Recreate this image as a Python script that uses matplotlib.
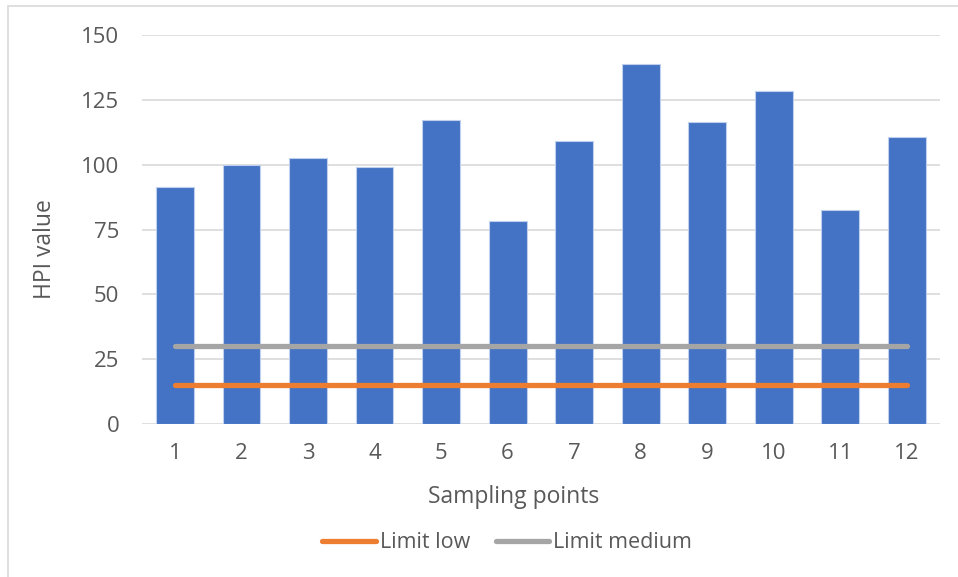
import matplotlib
matplotlib.use("Agg")
import matplotlib.pyplot as plt
from matplotlib.lines import Line2D
from matplotlib.patches import Rectangle

plt.rcParams['font.family'] = ['Open Sans', 'DejaVu Sans']

# Data
sampling_points = ["1", "2", "3", "4", "5", "6", "7", "8", "9", "10", "11", "12"]
hpi_values = [91.3, 100.0, 102.6, 99.1, 117.2, 78.4, 109.4, 139.1, 116.5, 128.6, 82.4, 110.6]
limit_low = [15] * 12
limit_medium = [30] * 12
y_ticks = [0, 25, 50, 75, 100, 125, 150]

BAR_COLOR = "#4472C4"
LOW_COLOR = "#ED7D31"
MED_COLOR = "#A5A5A5"
TEXT_COLOR = "#595959"
GRID_COLOR = "#D9D9D9"

W, H = 958, 577
fig = plt.figure(figsize=(W / 100, H / 100), dpi=100)
fig.patch.set_facecolor("white")

# chart-area border (runs off the right and bottom edges)
fig.patches.append(Rectangle((8 / W, -0.2), 1.2, (H - 6) / H + 0.2, transform=fig.transFigure,
                             fill=False, edgecolor=GRID_COLOR, linewidth=1.2))

left, right = 141.7 / W, 940 / W
bottom, top = (H - 424) / H, (H - 35.3) / H
ax = fig.add_axes([left, bottom, right - left, top - bottom])

x = list(range(len(sampling_points)))
ax.bar(x, hpi_values, width=0.57, color=BAR_COLOR, edgecolor="#BFD0EE",
       linewidth=0.8, zorder=2)
ax.plot(x, limit_low, color=LOW_COLOR, linewidth=3.8, solid_capstyle="round", zorder=3)
ax.plot(x, limit_medium, color=MED_COLOR, linewidth=3.8, solid_capstyle="round", zorder=3)

ax.set_xlim(-0.5, len(sampling_points) - 0.5)
ax.set_ylim(0, 150)
ax.set_yticks(y_ticks)
ax.set_xticks(x)
ax.set_xticklabels(sampling_points)
ax.yaxis.grid(True, color=GRID_COLOR, linewidth=1.2, zorder=0)
ax.set_axisbelow(True)
for s in ax.spines.values():
    s.set_visible(False)
ax.tick_params(axis="both", length=0, labelsize=16, colors=TEXT_COLOR)
ax.tick_params(axis="y", pad=16)
ax.tick_params(axis="x", pad=14)

fig.text(45 / W, 1 - 249 / H, "HPI value", rotation=90, ha="center", va="center",
         fontsize=16.5, color=TEXT_COLOR)
fig.text(513.7 / W, 1 - 497 / H, "Sampling points", ha="center", va="center",
         fontsize=16.5, color=TEXT_COLOR)

handles = [Line2D([], [], color=LOW_COLOR, linewidth=3.8, solid_capstyle="round"),
           Line2D([], [], color=MED_COLOR, linewidth=3.8, solid_capstyle="round")]
fig.legend(handles, ["Limit low", "Limit medium"], loc="center",
           bbox_to_anchor=(507 / W, 1 - 543 / H), ncol=2, frameon=False,
           fontsize=15.5, labelcolor=TEXT_COLOR, handlelength=2.5,
           handletextpad=0.15, columnspacing=1.2)

fig.savefig("out.png", dpi=100, facecolor="white")
